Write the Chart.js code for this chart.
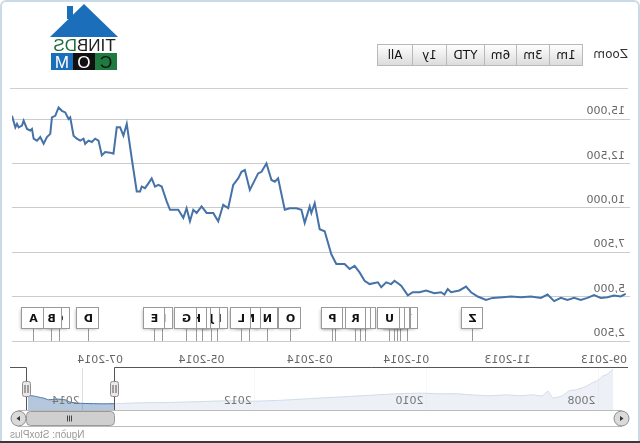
<!DOCTYPE html>
<html>
<head>
<meta charset="utf-8">
<script src="https://cdn.jsdelivr.net/npm/chart.js@4.4.1/dist/chart.umd.min.js"></script>
<style>
	html, body { margin: 0; padding: 0; background: #fff; }
	#page { position: relative; width: 640px; height: 443px; overflow: hidden; background: #fff;
		transform: scaleX(-1); font-family: "DejaVu Sans", Verdana, sans-serif; }
	.frame { position: absolute; left: 0; top: 0; width: 636px; height: 446px; border: 2px solid #cbdae7; border-radius: 6px; }
	.bottomline { position: absolute; left: 0; right: 0; bottom: 0; height: 2px; background: #3a3a3a; }
	.sep { position: absolute; left: 12px; width: 618px; top: 88px; height: 1px; background: #cfcfcf; }
	.zoomlbl { position: absolute; left: 12px; top: 47px; font-size: 12px; color: #333; }
	.btns { position: absolute; left: 58px; top: 44px; display: flex; }
	.btns span { display: block; height: 20px; line-height: 20px; border: 1px solid #b9b9b9; margin-left: -1px;
		background: linear-gradient(#fefefe, #dcdcdc); font-size: 12px; text-align: center; color: #111; }
	.roof { position: absolute; left: 522px; top: 4px; width: 68px; height: 33px; background: #1b6fba;
		clip-path: polygon(50% 0, 100% 100%, 0 100%); }
	.chimney { position: absolute; left: 567px; top: 6px; width: 6px; height: 13px; background: #1b6fba; }
	.brand { position: absolute; left: 522px; top: 38px; width: 67px; height: 15px; text-align: center; overflow: hidden;
		font: 17px/15px "Liberation Sans Narrow", "Liberation Sans", sans-serif; color: #222; }
	.brand b { font-weight: normal; color: #1e6e3a; }
	.com { position: absolute; left: 523px; top: 53px; display: flex; }
	.com span { display: block; width: 22px; height: 17px; line-height: 17px; text-align: center; overflow: hidden;
		font: 17px "Liberation Sans", sans-serif; }
	.credit { position: absolute; right: 10px; top: 429px; font: 10px "Liberation Sans", Arial, sans-serif; color: #999; }
	#mainWrap { position: absolute; left: 0; top: 90px; }
	#navWrap { position: absolute; left: 0; top: 360px; }
</style>
</head>
<body>
<div id="page">
	<div class="frame"></div>
	<div class="bottomline"></div>
	<div class="zoomlbl">Zoom</div>
	<div class="btns">
		<span style="width:32px">1m</span><span style="width:32px">3m</span><span style="width:31px">6m</span><span style="width:37px">YTD</span><span style="width:33px">1y</span><span style="width:34px">All</span>
	</div>
	<div class="roof"></div>
	<div class="chimney"></div>
	<div class="brand">TINB<b>DS</b></div>
	<div class="com">
		<span style="background:#1e7a3e;color:#111">C</span><span style="background:#111;color:#fff">O</span><span style="background:#1b6fba;color:#fff">M</span>
	</div>
	<div class="sep"></div>
	<div id="mainWrap"><canvas id="main" width="640" height="280"></canvas></div>
	<div id="navWrap"><canvas id="nav" width="640" height="72"></canvas></div>
	<div class="credit">Nguồn: StoxPlus</div>
</div>
<script>
// main series: position on the (trading-day) axis, counted from 1 Sep 2013
const days = [-13, -10, -6, -2, 2, 6, 10, 14, 18, 22, 26, 30, 34, 38, 44, 50, 56, 61, 67, 71, 76, 80, 83, 87, 92, 94, 96, 98,
	102, 107, 111, 115, 118, 122, 126, 128, 131, 134, 136, 141, 144, 147, 150, 153, 156, 161, 164, 168, 171, 174, 176, 177,
	180, 182, 185, 189, 192, 196, 198, 200, 203, 206, 208, 211, 213, 216, 218, 220, 223, 226, 229, 232, 235, 239, 242, 245,
	247, 249, 251, 253, 256, 259, 261, 263, 266, 268, 270, 272, 274, 276, 278, 279, 281, 284, 287, 289, 291, 293, 295, 297,
	300, 302, 304, 306, 308, 310, 312, 313, 315, 317, 319, 321, 322, 324, 326, 328, 330, 332, 333, 335, 337, 339, 341, 343,
	344, 345, 347, 349, 350, 352, 353, 354, 356];
const prices = [5160, 5010, 5070, 4970, 4930, 5090, 4930, 4820, 4930, 4820, 4930, 4750, 5120, 4930, 5010, 4970, 5010, 4970,
	4930, 4820, 5010, 5250, 5570, 5350, 5250, 5430, 5120, 5250, 5190, 5350, 5250, 5250, 5070, 5620, 5900, 5710, 5810, 5530,
	5810, 5710, 5900, 6370, 6740, 6560, 6840, 6840, 7390, 8690, 8800, 10270, 9720, 10090, 9160, 9900, 9990, 9990, 9900,
	11670, 11480, 11580, 12510, 12040, 11950, 11390, 11020, 12140, 12040, 11670, 11300, 9990, 10180, 9250, 9720, 9720,
	10090, 9720, 9900, 9250, 9990, 9440, 9900, 9900, 9900, 10370, 11210, 11300, 11210, 11670, 11390, 11120, 11210, 10930,
	10930, 12790, 14750, 14080, 14550, 14550, 13060, 13120, 13160, 12970, 13800, 13910, 13720, 13800, 13620, 13910, 13800,
	13910, 14080, 15110, 15020, 15390, 15480, 15670, 15200, 15110, 14180, 14000, 13620, 14000, 13800, 13910, 14460, 14370,
	14460, 14930, 14650, 14550, 14750, 14550, 15200];

const monthLabels = ["09-2013", "11-2013", "01-2014", "03-2014", "05-2014", "07-2014"];
const monthPos = [0, 58, 119, 177, 242, 303];
const yTicks = [2500, 5000, 7500, 10000, 12500, 15000];

// event flags, oldest first
const flagLetters = ["Z", "Y", "X", "W", "V", "U", "T", "S", "R", "Q", "P", "O", "N", "M", "L", "K", "J", "I", "H", "G", "F", "E", "D", "C", "B", "A"];
const flagDays = [79, 118, 122, 124, 126, 129, 143, 146, 149, 161, 163, 188, 202, 213, 218, 232, 236, 241, 245, 251, 265, 270, 310, 327, 332, 343];

// navigator series (year, price) and its year labels
const navYears = [2007.83, 2007.9, 2007.95, 2008.01, 2008.07, 2008.13, 2008.19, 2008.26, 2008.34, 2008.42, 2008.53, 2008.59,
	2008.65, 2008.77, 2008.92, 2009.07, 2009.27, 2009.47, 2009.65, 2009.85, 2010.05, 2010.31, 2010.66, 2011.01, 2011.36,
	2011.71, 2012.0, 2012.3, 2012.64, 2013.0, 2013.35, 2013.62, 2013.8, 2013.95, 2014.05, 2014.15, 2014.2, 2014.3, 2014.4,
	2014.45, 2014.5, 2014.55, 2014.6, 2014.64];
const navPrices = [46000, 40000, 38000, 32500, 30000, 26500, 24000, 21500, 20500, 14500, 12000, 20000, 14500, 15500, 14500,
	15500, 14500, 15500, 16800, 16800, 17500, 17000, 15000, 13000, 11000, 9000, 8000, 8500, 7500, 6500, 6000, 5000, 4900,
	5200, 5600, 7000, 9500, 10500, 9700, 11500, 12500, 13800, 14500, 15200];
const navYearTicks = [2008, 2010, 2012, 2014];
const navSelection = [2013.62, 2014.66];

const LABEL_FONT = { family: '"DejaVu Sans", Verdana, sans-serif', size: 11 };

const flagPlugin = {
	id: "flags",
	afterDatasetsDraw(chart) {
		const { ctx, chartArea: a, scales: { x } } = chart;
		ctx.save();
		ctx.font = 'bold 11px "DejaVu Sans", Verdana, sans-serif';
		ctx.textAlign = "center";
		ctx.textBaseline = "middle";
		ctx.lineWidth = 1;
		flagDays.forEach((d, i) => {
			const px = Math.round(x.getPixelForValue(d)) + 0.5;
			const w = Math.round(ctx.measureText(flagLetters[i]).width) + 13;
			const h = 21;
			const top = a.bottom - 33.5;
			const left = Math.round(px - w / 2) + 0.5;
			ctx.strokeStyle = "#9a9a9a";
			ctx.beginPath();
			ctx.moveTo(px, top + h);
			ctx.lineTo(px, a.bottom);
			ctx.stroke();
			ctx.shadowColor = "rgba(0,0,0,0.25)";
			ctx.shadowBlur = 3;
			ctx.shadowOffsetX = 1;
			ctx.shadowOffsetY = 1;
			ctx.fillStyle = "#fff";
			ctx.fillRect(left, top, w, h);
			ctx.shadowColor = "transparent";
			ctx.strokeRect(left, top, w, h);
			ctx.fillStyle = "#111";
			ctx.fillText(flagLetters[i], px, top + h / 2 + 1);
		});
		ctx.restore();
	}
};

new Chart(document.getElementById("main"), {
	type: "line",
	data: {
		datasets: [{
			data: days.map((d, i) => ({ x: d, y: prices[i] })),
			borderColor: "#4572A7",
			borderWidth: 2,
			pointRadius: 0,
			tension: 0
		}]
	},
	options: {
		responsive: false,
		devicePixelRatio: 1,
		animation: false,
		layout: { padding: { left: 10, right: 12, top: 9, bottom: 0 } },
		plugins: { legend: { display: false }, tooltip: { enabled: false } },
		scales: {
			x: {
				type: "linear",
				min: -15.6,
				max: 356,
				afterBuildTicks: (s) => { s.ticks = monthPos.map((v) => ({ value: v })); },
				afterFit: (s) => { s.height = 29; },
				grid: { display: false },
				border: { display: false },
				ticks: {
					autoSkip: false,
					maxRotation: 0,
					padding: 5,
					color: "#666",
					font: LABEL_FONT,
					callback: (v, i) => monthLabels[i]
				}
			},
			y: {
				min: 2500,
				max: 16000,
				afterBuildTicks: (s) => { s.ticks = yTicks.map((v) => ({ value: v })); },
				afterFit: (s) => { s.width = 0; },
				grid: { color: "#cccccc", drawTicks: false },
				border: { display: false },
				ticks: {
					mirror: true,
					padding: 5,
					labelOffset: -8,
					color: "#666",
					font: LABEL_FONT,
					callback: (v) => v.toLocaleString("en-US")
				}
			}
		}
	},
	plugins: [flagPlugin]
});

function roundRect(ctx, x, y, w, h, r) {
	ctx.beginPath();
	ctx.moveTo(x + r, y);
	ctx.arcTo(x + w, y, x + w, y + h, r);
	ctx.arcTo(x + w, y + h, x, y + h, r);
	ctx.arcTo(x, y + h, x, y, r);
	ctx.arcTo(x, y, x + w, y, r);
	ctx.closePath();
}

const navPlugin = {
	id: "navDecor",
	afterDatasetsDraw(chart) {
		const { ctx, chartArea: a, scales: { x } } = chart;
		const x0 = Math.round(x.getPixelForValue(navSelection[0])) + 0.5;
		const x1 = Math.round(Math.min(x.getPixelForValue(navSelection[1]), a.right)) - 0.5;
		ctx.save();
		// mask outside the selected range
		ctx.fillStyle = "rgba(255,255,255,0.75)";
		ctx.fillRect(a.left, a.top, x0 - a.left, a.bottom - a.top);
		if (x1 < a.right - 1) ctx.fillRect(x1, a.top, a.right - x1, a.bottom - a.top);
		// year labels
		ctx.fillStyle = "#777";
		ctx.font = '11px "DejaVu Sans", Verdana, sans-serif';
		ctx.textAlign = "left";
		ctx.textBaseline = "alphabetic";
		navYearTicks.forEach((yr) => ctx.fillText(String(yr), x.getPixelForValue(yr) + 3, a.bottom - 6));
		// outline
		const oy = a.top - 0.5;
		ctx.strokeStyle = "#555";
		ctx.lineWidth = 1;
		ctx.beginPath();
		ctx.moveTo(12, oy);
		ctx.lineTo(x0, oy);
		ctx.lineTo(x0, a.bottom);
		ctx.moveTo(x1, a.bottom);
		ctx.lineTo(x1, oy);
		ctx.lineTo(630, oy);
		ctx.stroke();
		// scrollbar track
		const tTop = a.bottom + 0.5, tBot = a.bottom + 16.5;
		ctx.strokeStyle = "#bbb";
		ctx.beginPath();
		ctx.moveTo(18, tTop); ctx.lineTo(622, tTop);
		ctx.moveTo(18, tBot); ctx.lineTo(622, tBot);
		ctx.stroke();
		// thumb
		roundRect(ctx, x0, tTop + 1, x1 - x0, 14, 4);
		ctx.fillStyle = "#cfcfcf";
		ctx.fill();
		ctx.strokeStyle = "#999";
		ctx.stroke();
		const cx = Math.round((x0 + x1) / 2) + 0.5;
		ctx.strokeStyle = "#444";
		ctx.beginPath();
		[-2, 0, 2].forEach((o) => { ctx.moveTo(cx + o, tTop + 5); ctx.lineTo(cx + o, tTop + 11); });
		ctx.stroke();
		// buttons
		[[18.5, -1], [621.5, 1]].forEach(([bx, dir]) => {
			const by = tTop + 8;
			ctx.beginPath();
			ctx.arc(bx, by, 7.5, 0, Math.PI * 2);
			ctx.fillStyle = "#dadada";
			ctx.fill();
			ctx.strokeStyle = "#8a8a8a";
			ctx.stroke();
			ctx.beginPath();
			ctx.moveTo(bx + dir * 2, by);
			ctx.lineTo(bx - dir * 1.5, by - 2.5);
			ctx.lineTo(bx - dir * 1.5, by + 2.5);
			ctx.closePath();
			ctx.fillStyle = "#333";
			ctx.fill();
		});
		// handles
		[x0, x1].forEach((hx) => {
			roundRect(ctx, hx - 4, a.top + 13.5, 8, 15, 2);
			ctx.fillStyle = "#ebe7e8";
			ctx.fill();
			ctx.strokeStyle = "#8f8f8f";
			ctx.stroke();
			ctx.strokeStyle = "#555";
			ctx.beginPath();
			ctx.moveTo(hx - 1.5, a.top + 17); ctx.lineTo(hx - 1.5, a.top + 25);
			ctx.moveTo(hx + 1.5, a.top + 17); ctx.lineTo(hx + 1.5, a.top + 25);
			ctx.stroke();
		});
		ctx.restore();
	}
};

new Chart(document.getElementById("nav"), {
	type: "line",
	data: {
		datasets: [{
			data: navYears.map((yr, i) => ({ x: yr, y: navPrices[i] })),
			borderColor: "#4572A7",
			borderWidth: 1,
			backgroundColor: "rgba(69,114,167,0.4)",
			fill: "start",
			pointRadius: 0,
			tension: 0.2
		}]
	},
	options: {
		responsive: false,
		devicePixelRatio: 1,
		animation: false,
		layout: { padding: { left: 26, right: 26, top: 8, bottom: 22 } },
		plugins: { legend: { display: false }, tooltip: { enabled: false } },
		scales: {
			x: {
				type: "linear",
				min: 2007.82,
				max: 2014.66,
				afterBuildTicks: (s) => { s.ticks = navYearTicks.map((v) => ({ value: v })); },
				afterFit: (s) => { s.height = 0; },
				grid: { color: "#dddddd", drawTicks: false },
				border: { display: false },
				ticks: { display: false }
			},
			y: { display: false, min: -2500, max: 47500 }
		}
	},
	plugins: [navPlugin]
});
</script>
</body>
</html>
